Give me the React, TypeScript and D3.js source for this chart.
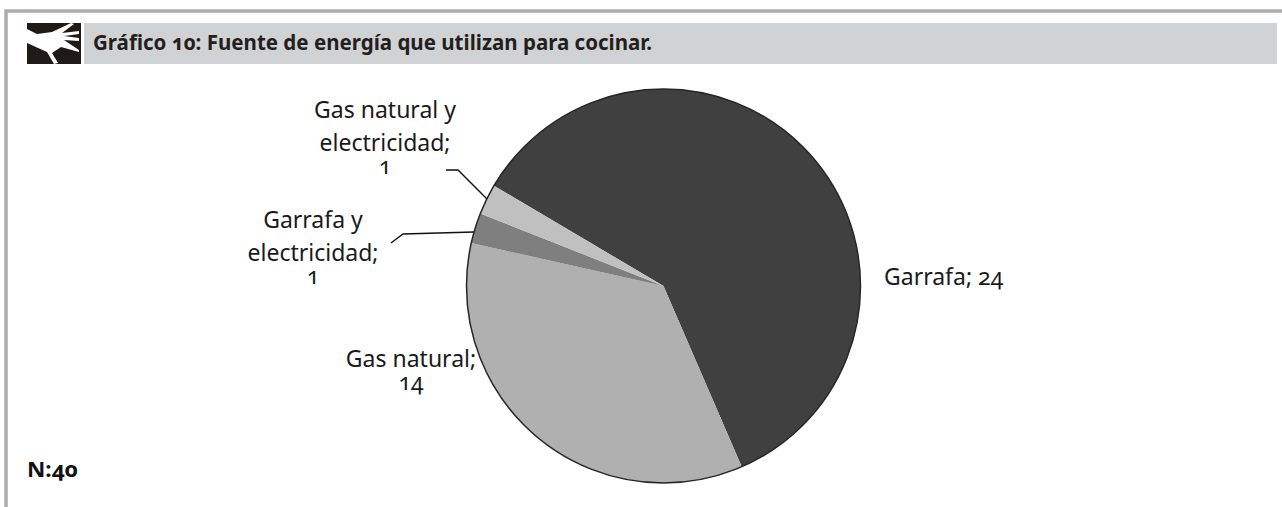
import React from "react";
import * as d3 from "d3";

const categories = ["Garrafa", "Gas natural", "Garrafa y electricidad", "Gas natural y electricidad"];
const values = [24, 14, 1, 1];
const colors = ["#404040", "#b0b0b0", "#7f7f7f", "#c0c0c0"];
const titleText = "Gráfico 10: Fuente de energía que utilizan para cocinar.";
const sampleText = "N:40";
const labelLines = [
  { lines: ["Garrafa; 24"], x: 884, y: 285, anchor: "start" },
  { lines: ["Gas natural;", "14"], x: 411, y: 367, anchor: "middle" },
  { lines: ["Garrafa y", "electricidad;", "1"], x: 313, y: 228, anchor: "middle" },
  { lines: ["Gas natural y", "electricidad;", "1"], x: 385, y: 118, anchor: "middle" },
];
const leaders = [
  [[446, 170], [458, 170], [487, 199]],
  [[391, 243], [403, 234], [474, 232]],
];

const FONT = "'Noto Sans', sans-serif";
const ONUM = { fontFeatureSettings: "'onum'" };

export default function App() {
  const cx = 663.5, cy = 286, r = 197;
  const start = (-59.4 * Math.PI) / 180;
  const pie = d3.pie<number>().sort(null).startAngle(start).endAngle(start + 2 * Math.PI);
  const arc = d3.arc<d3.PieArcDatum<number>>().innerRadius(0).outerRadius(r);
  const line = d3.line();
  const arcs = pie(values);
  return (
    <svg width={1282} height={507} style={{ position: "absolute", left: 0, top: 0, background: "#fff" }}>
      <path d="M6 507V11H1282" fill="none" stroke="#adadb0" strokeWidth={3.5} />
      <rect x={84} y={23} width={1193} height={41} fill="#d1d2d4" />
      <rect x={27} y={23} width={54} height={41} fill="#1f1a17" />
      <path
        d="M27 29 L37 34 L52 32 L71 23 L74 24 L62 33 L79 31 L79 34 L64 36 L79 38 L79 41 L64 40 L79 50 L79 52 L61 47 L52 53 L58 63 L54 64 L47 52 L27 43 Z"
        fill="#fff"
      />
      <text x={93} y={50} fontFamily={FONT} fontWeight={700} fontSize={22} fill="#231f20"
        textLength={559} lengthAdjust="spacingAndGlyphs" style={ONUM}>
        {titleText}
      </text>
      <text x={27} y={477} fontFamily={FONT} fontWeight={700} fontSize={22} fill="#111" textLength={51} lengthAdjust="spacingAndGlyphs" style={ONUM}>{sampleText}</text>
      <g transform={`translate(${cx},${cy})`}>
        {arcs.map((d, i) => (
          <path key={categories[i]} d={arc(d) ?? ""} fill={colors[i]} />
        ))}
        <circle r={r} fill="none" stroke="#262626" strokeWidth={1.5} />
      </g>
      {leaders.map((l, i) => (
        <path key={i} d={line(l as [number, number][]) ?? ""} fill="none" stroke="#111" strokeWidth={1.4} />
      ))}
      {labelLines.map((l) => (
        <text key={l.lines[0]} textAnchor={l.anchor} fontFamily={FONT} fontSize={23} fill="#1a1a1a" style={ONUM}>
          {l.lines.map((t, i) => (
            <tspan key={i} x={l.x} y={l.y + (t.length < 3 ? (i - 1) * 33 + 23 : i * 33)}>{t}</tspan>
          ))}
        </text>
      ))}
    </svg>
  );
}
